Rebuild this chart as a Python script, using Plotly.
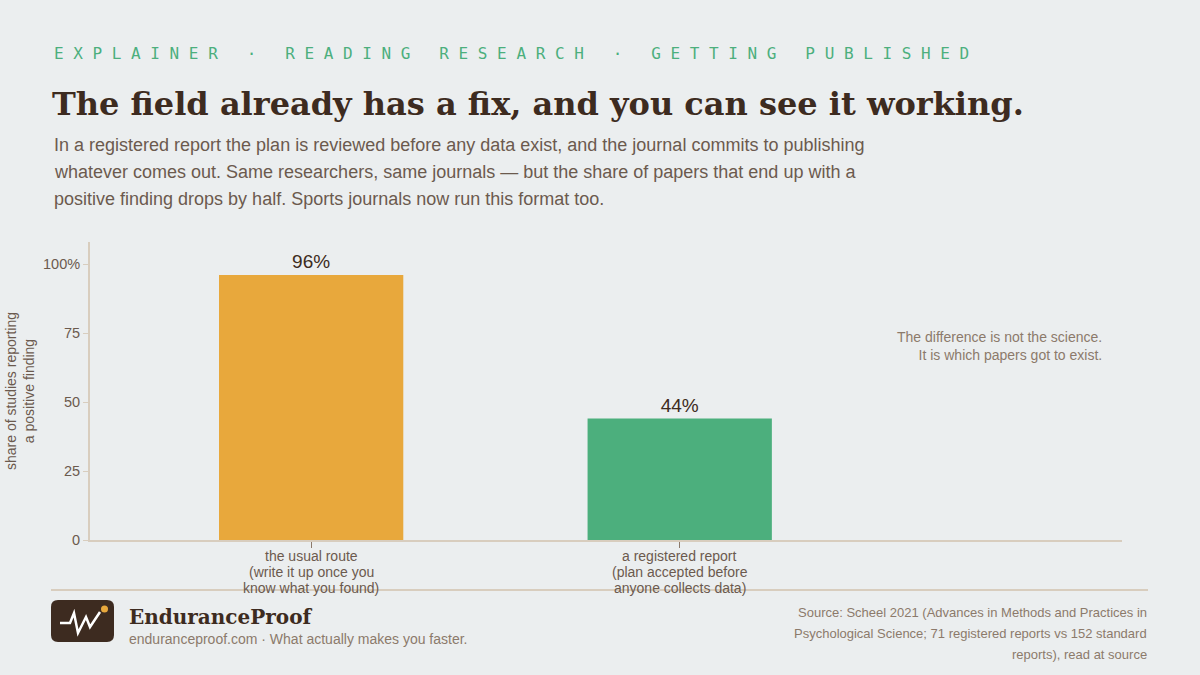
import plotly.graph_objects as go

# data
categories = ["the usual route", "a registered report"]
category_notes = [
    ["(write it up once you", "know what you found)"],
    ["(plan accepted before", "anyone collects data)"],
]
share_positive = [96, 44]
bar_labels = ["96%", "44%"]
bar_colors = ["#E8A83C", "#4CAF7D"]
tick_vals = [0, 25, 50, 75, 100]
tick_text = ["0", "25", "50", "75", "100%"]

kicker = "EXPLAINER · READING RESEARCH · GETTING PUBLISHED"
title = "The field already has a fix, and you can see it working."
subtitle_lines = [
    "In a registered report the plan is reviewed before any data exist, and the journal commits to publishing",
    "whatever comes out. Same researchers, same journals — but the share of papers that end up with a",
    "positive finding drops by half. Sports journals now run this format too.",
]
note_text = "The difference is not the science.<br>It is which papers got to exist."
source_lines = [
    "Source: Scheel 2021 (Advances in Methods and Practices in",
    "Psychological Science; 71 registered reports vs 152 standard",
    "reports), read at source",
]

W, H = 1200, 675
ML, MR, MT, MB = 90, 78, 242, 135
BG = "#EBEEEF"
INK = "#3D2B20"
MUTED = "#8C7A6B"
BODY = "#6B5A4E"
RULE = "#D8CDBE"
SANS = "'Liberation Sans', Arial, sans-serif"
SERIF = "Georgia, 'DejaVu Serif', serif"
MONO = "'DejaVu Sans Mono', monospace"

pw, ph = W - ML - MR, H - MT - MB


def px(x):
    return (x - ML) / pw


def py(y):
    return (H - MB - y) / ph


fig = go.Figure(go.Bar(
    x=categories, y=share_positive, width=0.5,
    marker=dict(color=bar_colors, line=dict(width=0)),
    text=bar_labels, textposition="outside", cliponaxis=False,
    textfont=dict(size=19, color=INK, family=SANS),
    hoverinfo="skip",
))

fig.update_layout(
    width=W, height=H, margin=dict(l=ML, r=MR, t=MT, b=MB),
    paper_bgcolor=BG, plot_bgcolor=BG, showlegend=False,
    font=dict(family=SANS, color=BODY),
)
fig.update_xaxes(
    range=[-0.6, 2.2], showgrid=False, zeroline=False,
    showline=True, linecolor=RULE, linewidth=2,
    ticks="outside", ticklen=6, tickcolor="#8C7A6B", tickwidth=1,
    showticklabels=False,
)
fig.update_yaxes(
    range=[0, 108], showgrid=False, zeroline=False,
    showline=True, linecolor=RULE, linewidth=2,
    ticks="outside", ticklen=5, tickcolor=RULE, tickwidth=1,
    tickvals=tick_vals, ticktext=tick_text,
    tickfont=dict(size=14.5, color=BODY),
)

ann = []
# category labels, set tighter than plotly's own tick label line height
for cat, notes in zip(categories, category_notes):
    for j, line in enumerate([cat] + notes):
        ann.append(dict(x=cat, xref="x", y=py(556 + 16 * j), xanchor="center", text=line,
                        font=dict(family=SANS, size=14, color=BODY)))
ann.append(dict(x=px(52), y=py(53), text="\u00a0".join(kicker.replace(" ", "\u00a0")),
                font=dict(family=MONO, size=16, color="#4CAF7D")))
ann.append(dict(x=px(50), y=py(104), text="<b>" + title + "</b>",
                font=dict(family=SERIF, size=32, color=INK)))
for i, line in enumerate(subtitle_lines):
    ann.append(dict(x=px(52), y=py(145 + 27 * i), text=line,
                    font=dict(family=SANS, size=18, color=BODY)))
ann.append(dict(x=px(20), y=py(391), text="share of studies reporting<br>a positive finding",
                textangle=-90, xanchor="center",
                font=dict(family=SANS, size=14, color=BODY)))
ann.append(dict(x=px(1104), y=py(346), text=note_text, xanchor="right", align="right",
                font=dict(family=SANS, size=14, color=MUTED)))
ann.append(dict(x=px(127), y=py(617), text="<b>EnduranceProof</b>",
                font=dict(family=SERIF, size=20, color=INK)))
ann.append(dict(x=px(127), y=py(639), text="enduranceproof.com · What actually makes you faster.",
                font=dict(family=SANS, size=14, color=MUTED)))
for i, line in enumerate(source_lines):
    ann.append(dict(x=px(1149), y=py(612 + 21 * i), text=line, xanchor="right", align="right",
                    font=dict(family=SANS, size=13, color=MUTED)))
for a in ann:
    a.setdefault("xanchor", "left")
    a.setdefault("xref", "paper")
    a.update(yref="paper", yanchor="middle", showarrow=False)
fig.update_layout(annotations=ann)

# footer rule and logo
zig = [(60, 623), (70, 623), (74, 613), (78, 633), (86, 617), (90, 627), (100, 612)]
zig_path = "M " + " L ".join(f"{px(x)},{py(y)}" for x, y in zig)
x0, x1, y0, y1, r = 51, 114, 600, 642, 7
logo = (f"M {px(x0 + r)},{py(y0)} L {px(x1 - r)},{py(y0)} Q {px(x1)},{py(y0)} {px(x1)},{py(y0 + r)} "
        f"L {px(x1)},{py(y1 - r)} Q {px(x1)},{py(y1)} {px(x1 - r)},{py(y1)} "
        f"L {px(x0 + r)},{py(y1)} Q {px(x0)},{py(y1)} {px(x0)},{py(y1 - r)} "
        f"L {px(x0)},{py(y0 + r)} Q {px(x0)},{py(y0)} {px(x0 + r)},{py(y0)} Z")
shapes = [
    dict(type="line", x0=px(51), x1=px(1148), y0=py(590), y1=py(590),
         line=dict(color=RULE, width=2)),
    dict(type="path", path=logo, fillcolor=INK, line=dict(width=0)),
    dict(type="path", path=zig_path, line=dict(color="white", width=2.5)),
    dict(type="circle", x0=px(101), x1=px(108), y0=py(605.5), y1=py(612.5),
         fillcolor="#E8A83C", line=dict(width=0)),
]
for s in shapes:
    s.update(xref="paper", yref="paper", layer="above")
fig.update_layout(shapes=shapes)

fig.write_html("out.html", config={"displayModeBar": False},
               post_script="document.body.style.margin='0';")
